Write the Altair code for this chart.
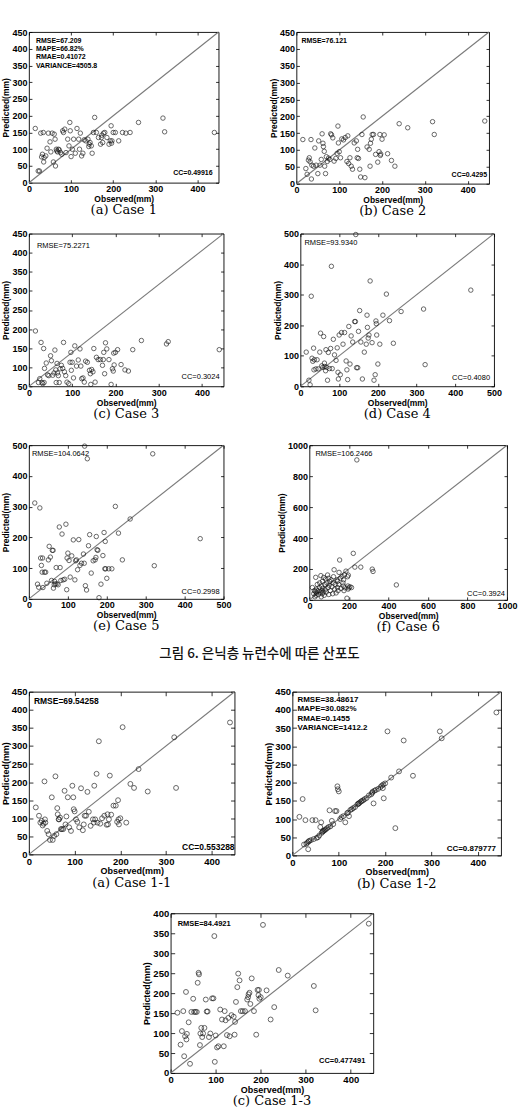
import altair as alt
import pandas as pd

# Observed monthly rainfall (mm), shared by every case
observed = [15, 22, 25, 28, 30, 32, 34, 35, 36, 40, 43, 46, 50, 52, 55, 58, 60, 62, 63, 65,
            66, 68, 70, 72, 75, 78, 80, 82, 85, 88, 92, 95, 97, 98, 100, 103, 106, 110, 114, 118,
            120, 122, 125, 128, 131, 135, 140, 142, 143, 145, 148, 150, 153, 156, 160, 165, 170, 172, 173, 175,
            177, 180, 185, 190, 193, 195, 196, 197, 200, 205, 213, 222, 230, 240, 260, 318, 322, 440]

# Predicted values per model case (same order as `observed`)
pred_case1 = [162, 35, 35, 148, 77, 85, 150, 62, 75, 80, 103, 148, 122, 92, 148, 62, 145, 130, 50, 100,
              95, 92, 100, 98, 90, 85, 155, 150, 160, 90, 130, 110, 180, 155, 78, 100, 130, 88, 162, 130,
              100, 148, 80, 88, 128, 125, 130, 108, 115, 120, 110, 88, 150, 195, 150, 135, 115, 135, 142, 120,
              148, 150, 135, 115, 125, 170, 118, 125, 150, 150, 125, 150, 148, 150, 180, 193, 152, 150]
pred_case2 = [131, 45, 28, 70, 77, 65, 131, 14, 55, 52, 106, 55, 30, 127, 55, 72, 148, 120, 110, 96,
              52, 30, 80, 66, 76, 72, 148, 145, 136, 67, 75, 90, 171, 121, 95, 77, 133, 130, 137, 66,
              142, 60, 77, 52, 43, 121, 127, 77, 102, 75, 43, 20, 146, 198, 18, 109, 102, 52, 120, 132,
              146, 146, 87, 64, 95, 146, 84, 88, 132, 145, 89, 69, 52, 178, 166, 184, 146, 186]
pred_case3 = [195, 60, 70, 165, 60, 57, 149, 60, 97, 111, 80, 78, 130, 117, 79, 85, 145, 93, 60, 110,
              85, 78, 60, 96, 105, 97, 165, 88, 78, 61, 57, 113, 139, 92, 113, 72, 156, 103, 119, 148,
              103, 70, 72, 61, 116, 113, 92, 83, 55, 94, 88, 149, 61, 126, 120, 120, 105, 120, 139, 83,
              164, 148, 120, 55, 96, 90, 137, 106, 139, 146, 107, 93, 90, 146, 170, 161, 167, 146]
pred_case4 = [112, 20, 5, 295, 92, 82, 125, 54, 87, 57, 87, 57, 112, 174, 67, 62, 163, 76, 65, 51,
              120, 62, 20, 111, 58, 124, 393, 58, 154, 103, 85, 126, 46, 24, 168, 38, 176, 138, 176, 83,
              54, 22, 196, 73, 165, 145, 212, 212, 497, 61, 61, 180, 248, 145, 24, 112, 138, 233, 193, 158,
              168, 345, 143, 20, 38, 214, 205, 168, 73, 138, 233, 302, 215, 141, 245, 253, 71, 315]
pred_case5 = [312, 48, 38, 296, 133, 109, 87, 133, 37, 87, 87, 51, 127, 171, 136, 60, 158, 158, 35, 46,
              57, 49, 102, 49, 46, 234, 102, 60, 211, 62, 64, 243, 30, 133, 149, 125, 71, 140, 192, 62,
              124, 127, 95, 193, 109, 116, 146, 116, 497, 43, 29, 456, 173, 209, 84, 124, 127, 135, 203, 160,
              158, 4, 48, 141, 216, 98, 187, 98, 67, 98, 98, 301, 214, 127, 260, 472, 108, 196]
pred_case6 = [80, 40, 60, 20, 55, 146, 30, 70, 45, 100, 60, 35, 80, 110, 50, 157, 20, 90, 60, 40,
              120, 75, 50, 145, 30, 100, 65, 135, 50, 110, 161, 80, 140, 35, 95, 120, 60, 130, 85, 40,
              110, 150, 195, 70, 100, 45, 130, 80, 120, 60, 100, 178, 258, 140, 74, 152, 110, 90, 130, 60,
              163, 78, 186, 11, 150, 90, 70, 160, 78, 85, 80, 301, 212, 905, 212, 199, 184, 97]
pred_case1_1 = [130, 107, 88, 93, 80, 85, 202, 97, 88, 65, 56, 40, 158, 40, 51, 216, 56, 128, 111, 97,
                97, 102, 70, 70, 70, 176, 83, 105, 158, 75, 65, 190, 158, 125, 119, 97, 90, 75, 183, 67,
                83, 107, 107, 173, 118, 79, 97, 88, 190, 97, 223, 88, 313, 85, 100, 107, 82, 111, 83, 97,
                218, 110, 135, 135, 90, 150, 97, 83, 100, 352, 88, 195, 184, 236, 174, 324, 184, 365]
pred_case1_2 = [106, 155, 30, 97, 32, 35, 17, 38, 40, 42, 97, 45, 97, 48, 50, 55, 78, 91, 62, 65,
                67, 68, 70, 72, 75, 78, 124, 80, 95, 86, 122, 122, 190, 182, 176, 100, 105, 108, 91, 116,
                118, 108, 125, 127, 130, 133, 140, 142, 143, 145, 148, 150, 152, 155, 158, 165, 168, 172, 175, 143,
                178, 180, 183, 188, 192, 185, 195, 157, 198, 341, 214, 75, 231, 316, 219, 341, 322, 393]
pred_case1_3 = [151, 71, 105, 155, 42, 92, 203, 84, 98, 127, 23, 153, 186, 153, 153, 153, 226, 251, 247, 70,
                99, 113, 90, 99, 113, 184, 154, 154, 90, 99, 187, 187, 343, 28, 94, 64, 67, 159, 134, 67,
                155, 132, 95, 138, 92, 145, 141, 96, 128, 178, 215, 249, 232, 155, 155, 155, 184, 190, 197, 201,
                173, 237, 155, 96, 208, 195, 208, 186, 190, 371, 207, 134, 165, 258, 244, 218, 157, 374]

# Axis ranges and tick labels
range_450 = [0, 450]
range_50_450 = [50, 450]
range_500 = [0, 500]
range_1000 = [0, 1000]
range_400 = [0, 400]
ticks_x450 = [0, 100, 200, 300, 400]
ticks_y450 = [0, 50, 100, 150, 200, 250, 300, 350, 400, 450]
ticks_y50_450 = [50, 100, 150, 200, 250, 300, 350, 400, 450]
ticks_500 = [0, 100, 200, 300, 400, 500]
ticks_1000 = [0, 200, 400, 600, 800, 1000]
ticks_y400 = [0, 50, 100, 150, 200, 250, 300, 350, 400]

# Error statistics printed in each panel
stats_case1 = ["RMSE=67.209", "MAPE=66.82%", "RMAE=0.41072", "VARIANCE=4505.8"]
stats_case2 = ["RMSE=76.121"]
stats_case3 = ["RMSE=75.2271"]
stats_case4 = ["RMSE=93.9340"]
stats_case5 = ["RMSE=104.0642"]
stats_case6 = ["RMSE=106.2466"]
stats_case1_1 = ["RMSE=69.54258"]
stats_case1_2 = ["RMSE=38.48617", "MAPE=30.082%", "RMAE=0.1455", "VARIANCE=1412.2"]
stats_case1_3 = ["RMSE=84.4921"]
cc_labels = ["CC=0.49916", "CC=0.4295", "CC=0.3024", "CC=0.4080", "CC=0.2998", "CC=0.3924",
             "CC=0.553288", "CC=0.879777", "CC=0.477491"]
captions = ["(a) Case 1", "(b) Case 2", "(c) Case 3", "(d) Case 4", "(e) Case 5", "(f) Case 6",
            "(a) Case 1-1", "(b) Case 1-2", "(c) Case 1-3"]
figure_caption = "그림 6. 은닉층 뉴런수에 따른 산포도"

SANS = "Liberation Sans"
SERIF = "DejaVu Serif"


def panel(pred, xdom, ydom, xt, yt, stats, cc, cap, w, h, fs=9, tfs=8.5, sfs=7, sw="bold",
          sx=7, sy=6, lh=8.2, ccx=6, ccy=10, psize=20, tick=3):
    pts_df = pd.DataFrame({"obs": observed, "pred": pred})
    diag_df = pd.DataFrame({"obs": xdom, "pred": ydom})
    xs = alt.Scale(domain=xdom, nice=False, zero=False)
    ys = alt.Scale(domain=ydom, nice=False, zero=False)

    def lab_axis(orient, values):
        return alt.Axis(orient=orient, values=values, format="d", ticks=False, domain=False, grid=False,
                        labelFont=SANS, labelFontSize=fs, labelFontWeight="bold", labelColor="black",
                        labelPadding=2, labelFlush=False, labelOverlap=False, labelBound=False,
                        titleFont=SANS, titleFontSize=tfs, titleFontWeight="bold", titleColor="black",
                        titlePadding=1)

    def tick_axis(orient, values):
        # inward-pointing ticks: axis pulled inside the frame by the tick length
        return alt.Axis(orient=orient, values=values, ticks=True, tickSize=tick, tickColor="black",
                        tickWidth=0.8, labels=False, domain=False, grid=False, offset=-tick)

    diag = alt.Chart(diag_df).mark_line(color="#7a7a7a", strokeWidth=1.1).encode(
        x=alt.X("obs:Q", scale=xs, axis=tick_axis("bottom", xt), title=None),
        y=alt.Y("pred:Q", scale=ys, axis=tick_axis("left", yt), title=None),
    )
    frame_ticks = alt.Chart(diag_df).mark_line(strokeOpacity=0).encode(
        x=alt.X("obs:Q", scale=xs, axis=tick_axis("top", xt), title=None),
        y=alt.Y("pred:Q", scale=ys, axis=tick_axis("right", yt), title=None),
    )
    pts = alt.Chart(pts_df).mark_point(shape="circle", filled=False, size=psize,
                                       stroke="#111111", strokeWidth=0.9).encode(
        x=alt.X("obs:Q", scale=xs, axis=lab_axis("bottom", xt), title="Observed(mm)"),
        y=alt.Y("pred:Q", scale=ys, axis=lab_axis("left", yt), title="Predicted(mm)"),
    )
    one = pd.DataFrame({"k": [0]})
    stat_txt = alt.Chart(one).mark_text(
        text=stats, align="left", baseline="top", font=SANS, fontSize=sfs, fontWeight=sw,
        lineHeight=lh, color="black",
    ).encode(x=alt.value(sx), y=alt.value(sy))
    cc_txt = alt.Chart(one).mark_text(
        text=cc, align="right", baseline="middle", font=SANS, fontSize=sfs, fontWeight=sw,
        color="black",
    ).encode(x=alt.value(w - ccx), y=alt.value(h - ccy))

    return alt.layer(diag, frame_ticks, pts, stat_txt, cc_txt).resolve_axis(
        x="independent", y="independent"
    ).properties(
        width=w, height=h,
        title=alt.TitleParams(cap, orient="bottom", font=SERIF, fontSize=13, fontWeight="normal",
                              color="black", offset=1),
    )


pa = panel(pred_case1, range_450, range_450, ticks_x450, ticks_y450, stats_case1, cc_labels[0],
           captions[0], 190, 151, sx=7, sy=5)
pb = panel(pred_case2, range_450, range_450, ticks_x450, ticks_y450, stats_case2, cc_labels[1],
           captions[1], 193, 152, sx=5, sy=5, ccx=2, ccy=9)
pc = panel(pred_case3, range_450, range_50_450, ticks_x450, ticks_y50_450, stats_case3, cc_labels[2],
           captions[2], 195, 153, sw="normal", sfs=7.5, sx=8, sy=8, ccx=4, ccy=9)
pd_ = panel(pred_case4, range_500, range_500, ticks_500, ticks_500, stats_case4, cc_labels[3],
            captions[3], 194, 153, sw="normal", sfs=7.5, sx=4, sy=5, ccx=4, ccy=8)
pe = panel(pred_case5, range_500, range_500, ticks_500, ticks_500, stats_case5, cc_labels[4],
           captions[4], 195, 154, sw="normal", sfs=7.5, sx=3, sy=5, ccx=4, ccy=7)
pf = panel(pred_case6, range_1000, range_1000, ticks_1000, ticks_1000, stats_case6, cc_labels[5],
           captions[5], 198, 155, sw="normal", sfs=7.5, sx=6, sy=5, ccx=2, ccy=6)
p11 = panel(pred_case1_1, range_450, range_450, ticks_x450, ticks_y450, stats_case1_1, cc_labels[6],
            captions[6], 206, 163, fs=9.5, tfs=9, sfs=8.5, sx=5, sy=5, ccx=0, ccy=7, psize=24, tick=4)
p12 = panel(pred_case1_2, range_450, range_450, ticks_x450, ticks_y450, stats_case1_2, cc_labels[7],
            captions[7], 209, 164, fs=9.5, tfs=9, sfs=8, sx=5, sy=4, lh=9.5, ccx=5, ccy=6, psize=24, tick=4)
p13 = panel(pred_case1_3, range_450, range_400, ticks_x450, ticks_y400, stats_case1_3, cc_labels[8],
            captions[8], 203, 160, fs=9.5, tfs=9, sfs=7.5, sx=7, sy=7, ccx=8, ccy=12, psize=24, tick=4)

# empty, frameless cell that shifts the last panel to the right
spacer = alt.Chart(pd.DataFrame({"k": [0]})).mark_point(opacity=0).encode(
    x=alt.value(0), y=alt.value(0)
).properties(width=113, height=10, view=alt.ViewBackground(stroke=None, fill=None))

row1 = alt.hconcat(pa, pb, spacing=47)
row2 = alt.hconcat(pc, pd_, spacing=46)
row3 = alt.hconcat(pe, pf, spacing=45)
row4 = alt.hconcat(p11, p12, spacing=26)
row5 = alt.hconcat(spacer, p13, spacing=0)

top_block = alt.vconcat(
    alt.vconcat(row1, row2, spacing=10), row3, spacing=19,
    title=alt.TitleParams(figure_caption, orient="bottom", anchor="middle", font="Noto Sans CJK KR",
                          fontSize=13.5, fontWeight=500, color="#111111", offset=12),
)
bottom_block = alt.vconcat(row4, row5, spacing=16)

chart = alt.vconcat(top_block, bottom_block, spacing=25).properties(
    padding={"left": 0, "top": 26, "right": 0, "bottom": 0},
    background="white",
).configure_view(stroke="black", strokeWidth=0.9, fill="white")

chart.save("out.html", embed_options={"renderer": "svg", "actions": False})
